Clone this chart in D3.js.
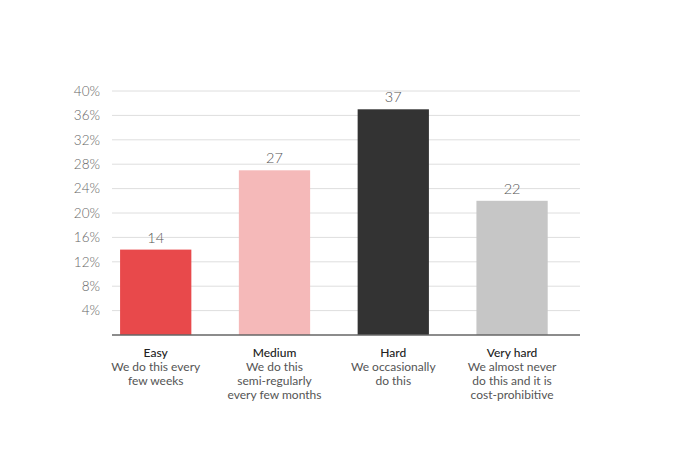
<!DOCTYPE html>
<html><head><meta charset="utf-8">
<script src="https://cdn.jsdelivr.net/npm/d3@7"></script>
<style>
body{margin:0;background:#fff;}
svg{display:block;font-family:Lato,"Open Sans",sans-serif;}
</style></head>
<body>
<svg id="chart" width="676" height="465"></svg>
<script>
const categories = ["Easy","Medium","Hard","Very hard"];
const descriptions = [
  ["We do this every","few weeks"],
  ["We do this","semi-regularly","every few months"],
  ["We occasionally","do this"],
  ["We almost never","do this and it is","cost-prohibitive"]
];
const values = [14,27,37,22];
const colors = ["#e8494b","#f5b9b9","#333333","#c6c6c6"];
const yTicks = [4,8,12,16,20,24,28,32,36,40];

(function(){
const svg = d3.select("#chart");
const mLeft = 112, mRight = 580, mTop = 91, mBottom = 335;

const y = d3.scaleLinear().domain([0,40]).range([mBottom, mTop]);
const x = d3.scaleBand().domain(categories).range([mLeft, mRight])
  .paddingInner(0.4).paddingOuter(0.17).align(0.2);

svg.append("g").selectAll("line").data(yTicks).join("line")
  .attr("x1", mLeft).attr("x2", mRight)
  .attr("y1", d => y(d)).attr("y2", d => y(d))
  .attr("stroke", "#dedede").attr("stroke-width", 1);

svg.append("g").selectAll("text").data(yTicks).join("text")
  .attr("x", 100).attr("y", d => y(d)).attr("dy", "0.35em")
  .attr("text-anchor", "end")
  .attr("font-size", 13.5).attr("font-weight", 300).attr("fill", "#666")
  .text(d => d + "%");

svg.append("g").selectAll("rect").data(values).join("rect")
  .attr("x", (d,i) => x(categories[i]))
  .attr("width", x.bandwidth())
  .attr("y", d => y(d))
  .attr("height", d => mBottom - y(d))
  .attr("fill", (d,i) => colors[i]);

svg.append("g").selectAll("text").data(values).join("text")
  .attr("x", (d,i) => x(categories[i]) + x.bandwidth()/2)
  .attr("y", d => y(d) - 7)
  .attr("text-anchor", "middle")
  .attr("font-size", 14.5).attr("font-weight", 300).attr("fill", "#555")
  .text(d => d);

svg.append("line")
  .attr("x1", mLeft).attr("x2", mRight)
  .attr("y1", mBottom).attr("y2", mBottom)
  .attr("stroke", "#666").attr("stroke-width", 1.5);

const cg = svg.append("g").selectAll("g").data(categories).join("g")
  .attr("transform", d => `translate(${x(d) + x.bandwidth()/2},0)`);
cg.append("text")
  .attr("y", 357).attr("text-anchor", "middle")
  .attr("font-size", 12).attr("font-weight", 500).attr("fill", "#222")
  .text(d => d);
cg.each(function(d,i){
  d3.select(this).selectAll("text.desc").data(descriptions[i]).join("text")
    .attr("class","desc")
    .attr("y", (t,j) => 371 + j*14).attr("text-anchor","middle")
    .attr("font-size", 12).attr("font-weight", 400).attr("fill", "#555")
    .text(t => t);
});
})();
</script>
</body></html>
